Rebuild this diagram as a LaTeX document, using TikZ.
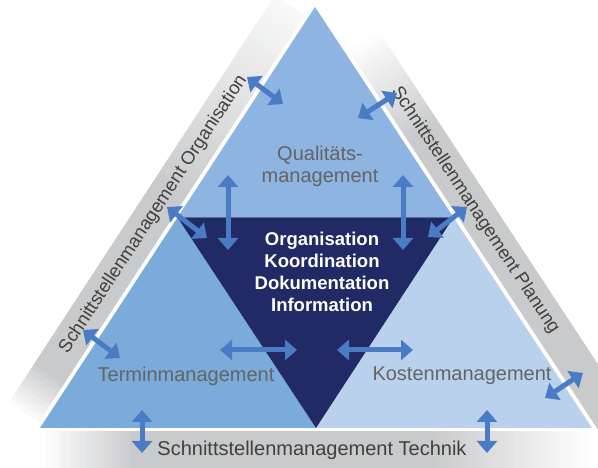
\documentclass[tikz,border=0pt]{standalone}
\usepackage{fontspec}
\setmainfont{Liberation Sans}
\usetikzlibrary{arrows.meta}
\usetikzlibrary{calc}
\usetikzlibrary{scopes}

\definecolor{qualblue}{HTML}{8EB4E1}
\definecolor{terminblue}{HTML}{7AABDA}
\definecolor{kostenblue}{HTML}{B9D1EC}
\definecolor{corenavy}{HTML}{222A66}
\definecolor{arrowblue}{HTML}{4A7CC5}
\definecolor{labelgray}{HTML}{646464}
\definecolor{bandtext}{HTML}{404040}
\definecolor{bandgray}{HTML}{C9CACC}

\begin{document}
\begin{tikzpicture}[x=1pt,y=1pt,
		twoway/.style={line width=5pt,arrowblue,{Triangle[width=20pt,length=12pt]}-{Triangle[width=20pt,length=12pt]}},
		fieldlabel/.style={text=labelgray,font=\fontsize{20}{22}\selectfont,align=center},
		bandlabel/.style={text=bandtext,font=\fontsize{20}{22}\selectfont},
		slantlabel/.style={bandlabel,font=\fontsize{18.5}{22}\selectfont,transform shape}]
		\useasboundingbox (0,0) rectangle (598,468);
		\clip (0,0) rectangle (598,468);
		\coordinate (apex) at (315,461);
		\coordinate (bl) at (40,40);
		\coordinate (br) at (592,40);
		\coordinate (ml) at ($(apex)!0.5!(bl)$);
		\coordinate (mr) at ($(apex)!0.5!(br)$);
		\coordinate (mb) at ($(bl)!0.5!(br)$);
		\foreach \x in {40,45,...,590}{
			\pgfmathtruncatemacro\pct{max(0,min(100,(\x-40)*1.1,(590-\x)*0.625))}
			\fill[bandgray!\pct!white] (\x,-5) rectangle (\x+5.6,37);
		}
		\node[bandlabel] (technik) at (312,18) {Schnittstellenmanagement Technik};
		\begin{scope}[shift={(bl)},rotate=56.85]
			\foreach \s in {0,5,...,485}{
				\pgfmathtruncatemacro\pct{max(0,min(100,\s*2,(520-\s)*0.4))}
				\fill[bandgray!\pct!white] (\s,4) rectangle (\s+5.6,40);
			}
			\node[slantlabel] (orgband) at (241,22) {Schnittstellenmanagement Organisation};
		\end{scope}
		\begin{scope}[shift={(apex)},rotate=-56.65]
			\foreach \s in {50,55,...,560}{
				\pgfmathtruncatemacro\pct{max(0,min(100,(\s-50)*0.9,(600-\s)*1.0))}
				\fill[bandgray!\pct!white] (\s,4) rectangle (\s+5.6,40);
			}
			\node[slantlabel] (planband) at (258,22) {Schnittstellenmanagement Planung};
		\end{scope}
		\fill[qualblue] (apex) -- (ml) -- (mr) -- cycle;
		\fill[terminblue] (ml) -- (bl) -- (mb) -- cycle;
		\fill[kostenblue] (mr) -- (mb) -- (br) -- cycle;
		\fill[corenavy] (ml) -- (mr) -- (mb) -- cycle;
		\node[fieldlabel] (qual) at (320,302) {Qualitäts-\\management};
		\node[fieldlabel] (termin) at (186,92) {Terminmanagement};
		\node[fieldlabel] (kosten) at (462,92) {Kostenmanagement};
		\node[text=white,font=\bfseries\fontsize{18.5}{22}\selectfont,align=center] (core) at (322,196) {Organisation\\Koordination\\Dokumentation\\Information};
		\foreach \k/\p/\q in {1/{247,391}/{283,364}, 2/{358,350}/{397,375}, 3/{167,261}/{207,230},
			4/{228,293}/{228,218}, 5/{403,293}/{403,218}, 6/{467,261}/{428,231},
			7/{83,138}/{120,110}, 8/{220,118}/{297,118}, 9/{337,118}/{413,118},
			10/{545,70}/{583,95}, 11/{142,58}/{142,15}, 12/{487,58}/{487,15}}{
			\coordinate (from\k) at (\p);
			\coordinate (to\k) at (\q);
			\draw[twoway] (from\k) -- (to\k);
		}
	\end{tikzpicture}
\end{document}
